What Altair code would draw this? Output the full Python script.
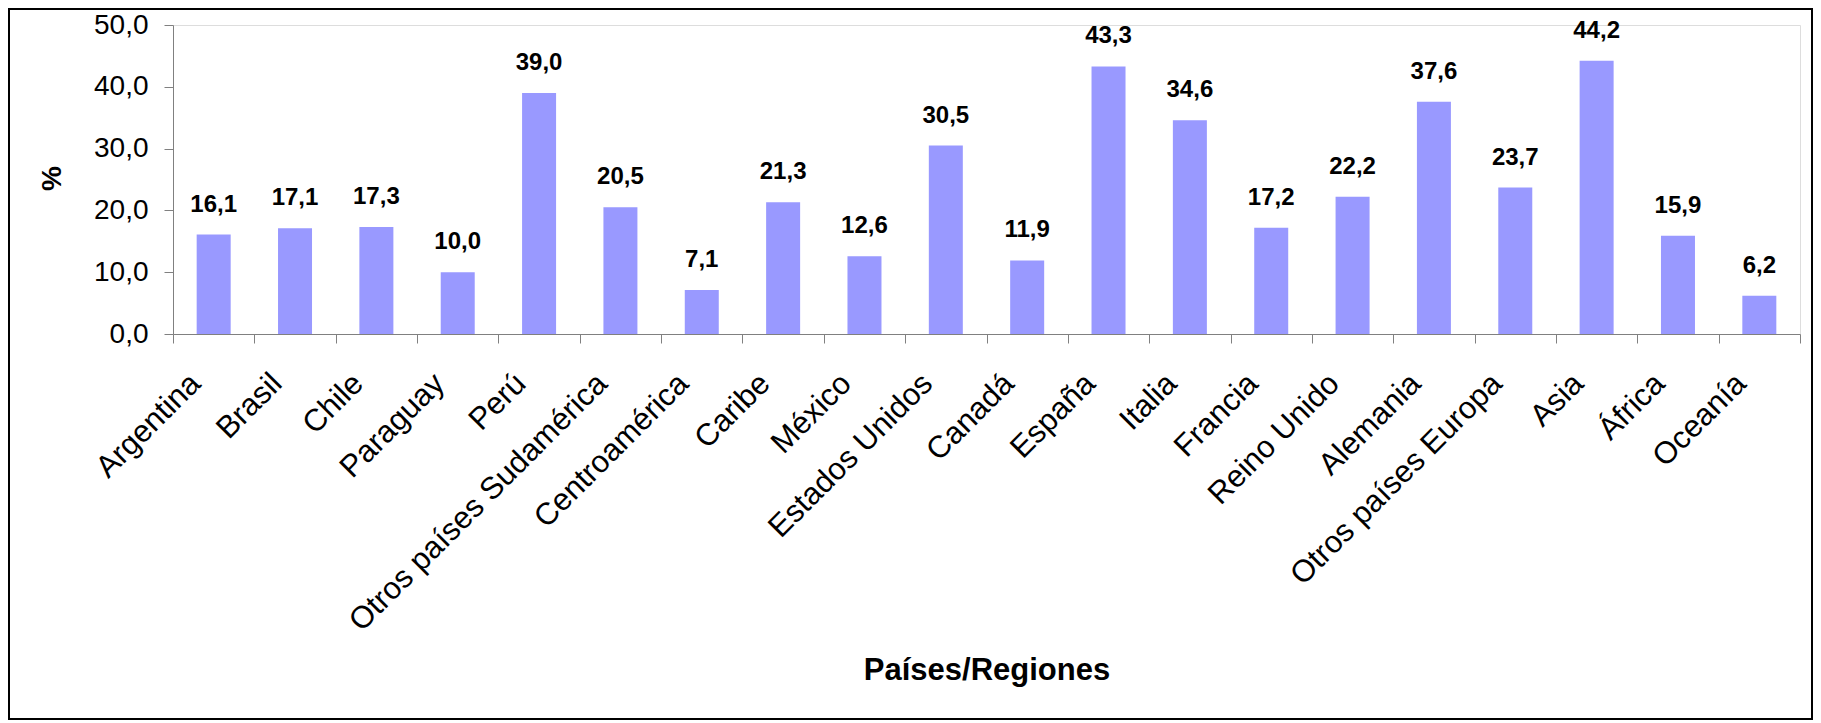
import altair as alt
import pandas as pd

categories = ["Argentina", "Brasil", "Chile", "Paraguay", "Perú",
              "Otros países Sudamérica", "Centroamérica", "Caribe", "México",
              "Estados Unidos", "Canadá", "España", "Italia", "Francia",
              "Reino Unido", "Alemania", "Otros países Europa", "Asia",
              "África", "Oceanía"]
values = [16.1, 17.1, 17.3, 10.0, 39.0, 20.5, 7.1, 21.3, 12.6, 30.5,
          11.9, 43.3, 34.6, 17.2, 22.2, 37.6, 23.7, 44.2, 15.9, 6.2]

df = pd.DataFrame({"cat": categories, "v": values})

W, H = 1627, 309
FONT = "Liberation Sans"

x_enc = alt.X("cat:N", sort=categories,
              scale=alt.Scale(paddingInner=0, paddingOuter=0),
              axis=alt.Axis(title="Países/Regiones", labelAngle=-45,
                            labelAlign="right", labelBaseline="top",
                            labelFontSize=31, labelFont=FONT, labelColor="#000",
                            labelPadding=25, labelOffset=-29,
                            tickBand="extent", tickSize=9,
                            tickColor="#808080", domainColor="#808080",
                            labelOverlap=False, labelLimit=0,
                            titleFontSize=31, titleFont=FONT, titleFontWeight="bold",
                            titleColor="#000", titleX=W / 2, titleY=336,
                            titleBaseline="middle", titleAnchor="middle"))

y_enc = alt.Y("v:Q", scale=alt.Scale(domain=[0, 50], nice=False),
              axis=alt.Axis(title="%", values=[0, 10, 20, 30, 40, 50],
                            labelExpr="replace(format(datum.value, '.1f'), '.', ',')",
                            labelFontSize=28, labelFont=FONT, labelColor="#000",
                            labelPadding=16, tickSize=9, tickColor="#808080",
                            domainColor="#808080", grid=False,
                            titleFontSize=28, titleFont=FONT, titleFontWeight="bold",
                            titleColor="#000", titleX=-121, titleY=153,
                            titleBaseline="middle", titleAngle=270))

bars = alt.Chart(df).mark_bar(size=34, color="#9999FF").encode(x=x_enc, y=y_enc)

labels = alt.Chart(df).transform_calculate(
    lab="replace(format(datum.v, '.1f'), '.', ',')"
).mark_text(font=FONT, fontSize=24, fontWeight="bold", color="#000",
            baseline="alphabetic", dy=-23).encode(
    x=alt.X("cat:N", sort=categories), y=alt.Y("v:Q"), text="lab:N")

frame = alt.Chart(pd.DataFrame({"a": [0]})).mark_rect(
    fill=None, stroke="#000", strokeWidth=2).encode(
    x=alt.value(-164), x2=alt.value(1639), y=alt.value(-16), y2=alt.value(694))

chart = alt.layer(bars, labels, frame).properties(
    width=W, height=H,
    autosize=alt.AutoSizeParams(type="none"),
    padding={"left": 165, "top": 17, "right": 13, "bottom": 387},
).configure_view(stroke=None).configure(background="white")

chart.save("out.html", embed_options={"renderer": "svg", "actions": False})
